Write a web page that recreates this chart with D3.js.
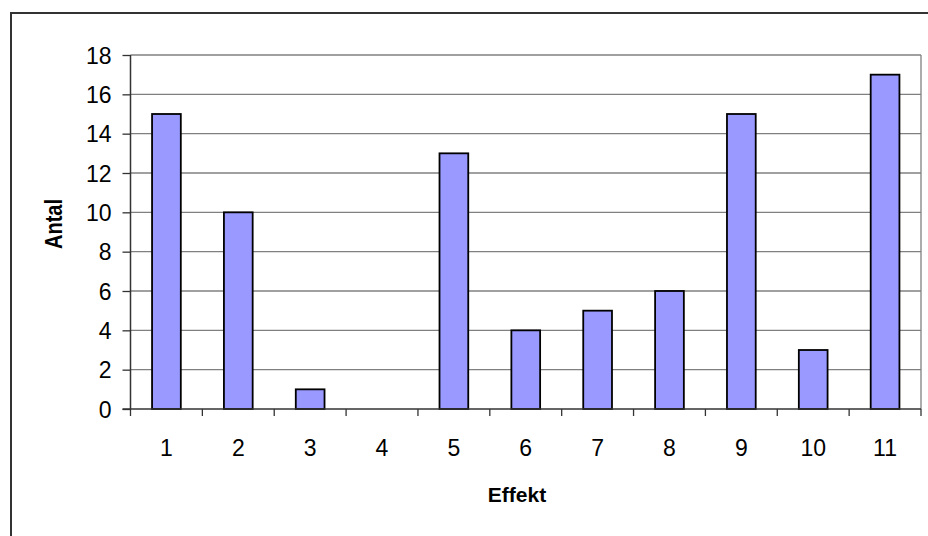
<!DOCTYPE html>
<html>
<head>
<meta charset="utf-8">
<script src="https://cdn.jsdelivr.net/npm/d3@7"></script>
<style>
  html, body { margin: 0; padding: 0; background: #fff; }
  svg { display: block; font-family: "Liberation Sans", Arial, sans-serif; }
</style>
</head>
<body>
<script>
// Number of responses per effect category
const categories = ["1", "2", "3", "4", "5", "6", "7", "8", "9", "10", "11"];
const values = [15, 10, 1, 0, 13, 4, 5, 6, 15, 3, 17];
const yTicks = [0, 2, 4, 6, 8, 10, 12, 14, 16, 18];
const xTitle = "Effekt";
const yTitle = "Antal";

const W = 928, H = 536;
const plot = { left: 130.5, right: 921, top: 55, bottom: 409 };
const tickFont = 23;
const titleFont = 21;

const svg = d3.select("body").append("svg")
  .attr("width", W).attr("height", H);

// Chart frame
svg.append("rect")
  .attr("x", 11).attr("y", 13)
  .attr("width", W + 20).attr("height", H + 20)
  .attr("fill", "#fff").attr("stroke", "#333").attr("stroke-width", 2);

const x = d3.scaleBand().domain(categories)
  .range([plot.left, plot.right]).paddingInner(0.6).paddingOuter(0.3);
const xEdge = d3.scaleLinear().domain([0, categories.length])
  .range([plot.left, plot.right]);
const y = d3.scaleLinear().domain([0, 18]).range([plot.bottom, plot.top]);

// Horizontal gridlines
svg.append("g").selectAll("line").data(yTicks.filter(d => d > 0)).join("line")
  .attr("x1", plot.left).attr("x2", plot.right)
  .attr("y1", d => y(d)).attr("y2", d => y(d))
  .attr("stroke", "#808080").attr("stroke-width", 1.3);

// Right border of plot area
svg.append("line")
  .attr("x1", plot.right).attr("x2", plot.right)
  .attr("y1", plot.top).attr("y2", plot.bottom)
  .attr("stroke", "#808080").attr("stroke-width", 1.3);

// Bars
svg.append("g").selectAll("rect").data(values).join("rect")
  .attr("x", (d, i) => x(categories[i]))
  .attr("y", d => y(d))
  .attr("width", x.bandwidth())
  .attr("height", d => y(0) - y(d))
  .attr("fill", d => d > 0 ? "#9999FF" : "none")
  .attr("stroke", d => d > 0 ? "#000" : "none")
  .attr("stroke-width", 1.8);

// Y axis
const yAxis = d3.axisLeft(y).tickValues(yTicks).tickSize(8).tickPadding(11)
  .tickFormat(d3.format("d"));
const gy = svg.append("g").attr("transform", `translate(${plot.left},0)`).call(yAxis);
gy.attr("font-size", null).attr("font-family", null);
gy.select(".domain").attr("stroke", "#333").attr("stroke-width", 1.5)
  .attr("d", `M0,${plot.bottom}V${plot.top}`);
gy.selectAll(".tick line").attr("stroke", "#333").attr("stroke-width", 1.3);
gy.selectAll(".tick text")
  .style("font-size", tickFont + "px").attr("fill", "#000")
  .attr("dy", "0.35em");

// X axis: baseline with ticks on category boundaries
const gx = svg.append("g");
gx.append("line")
  .attr("x1", plot.left - 8).attr("x2", plot.right)
  .attr("y1", plot.bottom).attr("y2", plot.bottom)
  .attr("stroke", "#333").attr("stroke-width", 1.5);
gx.selectAll("line.tk").data(d3.range(categories.length + 1)).join("line")
  .attr("class", "tk")
  .attr("x1", d => xEdge(d)).attr("x2", d => xEdge(d))
  .attr("y1", plot.bottom).attr("y2", plot.bottom + 7)
  .attr("stroke", "#333").attr("stroke-width", 1.3);
gx.selectAll("text").data(categories).join("text")
  .attr("x", d => x(d) + x.bandwidth() / 2)
  .attr("y", 456)
  .attr("text-anchor", "middle")
  .style("font-size", tickFont + "px").attr("fill", "#000")
  .text(d => d);

// Axis titles
svg.append("text")
  .attr("x", 517).attr("y", 502)
  .attr("text-anchor", "middle")
  .style("font-size", titleFont + "px").attr("font-weight", "bold")
  .text(xTitle);
svg.append("text")
  .attr("transform", `translate(62,224) rotate(-90)`)
  .attr("text-anchor", "middle")
  .style("font-size", "24px").attr("font-weight", "bold")
  .attr("textLength", 50).attr("lengthAdjust", "spacingAndGlyphs")
  .text(yTitle);
</script>
</body>
</html>
